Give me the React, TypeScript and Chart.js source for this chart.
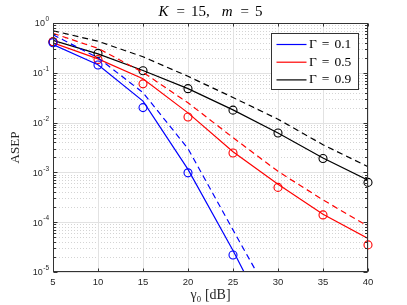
import React, { useEffect, useRef } from 'react';
import { Chart, registerables } from 'chart.js';

Chart.register(...registerables);

// ---------- data ----------
const snrDb = [5, 10, 15, 20, 25, 30, 35, 40];
const xTickValues = [5, 10, 15, 20, 25, 30, 35, 40];
const yDecades = [1e-5, 1e-4, 1e-3, 1e-2, 1e-1, 1];
const seriesLabels = ['Γ = 0.1', 'Γ = 0.5', 'Γ = 0.9'];
const seriesColors = ['#0000ff', '#ff0000', '#000000'];

// Γ = 0.1
const g01Solid = [0.37, 0.145, 0.027, 0.00115, 2.7e-5, 4.7e-7, null, null];
const g01Dashed = [0.58, 0.2, 0.04, 0.003, 7e-5, 1.7e-6, null, null];
const g01Sim = [0.4, 0.143, 0.02, 9.8e-4, 2.2e-5, null, null, null];
// Γ = 0.5
const g05Solid = [0.4, 0.19, 0.076, 0.0157, 0.0026, 5.8e-4, 1.45e-4, 4.7e-5];
const g05Dashed = [0.62, 0.31, 0.102, 0.025, 0.005, 1.05e-3, 2.8e-4, 8.3e-5];
const g05Sim = [0.42, 0.185, 0.06, 0.013, 0.00245, 5.0e-4, 1.4e-4, 3.5e-5];
// Γ = 0.9
const g09Solid = [0.45, 0.24, 0.111, 0.048, 0.018, 0.0062, 0.00195, 7.0e-4];
const g09Dashed = [0.7, 0.43, 0.21, 0.085, 0.032, 0.0117, 0.0036, 0.0013];
const g09Sim = [0.42, 0.245, 0.11, 0.048, 0.0178, 0.0062, 0.0019, 6.3e-4];

const solids = [g01Solid, g05Solid, g09Solid];
const dashes = [g01Dashed, g05Dashed, g09Dashed];
const sims = [g01Sim, g05Sim, g09Sim];

const AXIS_COLOR = '#333333';
const SERIF = '"Liberation Serif", "DejaVu Serif", serif';
const SANS = '"Liberation Sans", Arial, sans-serif';

const matlabPlugin = {
  id: 'matlabLook',
  beforeDatasetsDraw(chart: any) {
    const { ctx, chartArea: a, scales } = chart;
    const x = scales.x;
    const y = scales.y;
    ctx.save();
    ctx.lineWidth = 1;
    // minor y grid (dotted)
    ctx.strokeStyle = '#d4d4d4';
    ctx.setLineDash([1, 2]);
    for (const d of yDecades) {
      if (d >= 1) continue;
      for (let k = 2; k <= 9; k++) {
        const py = Math.round(y.getPixelForValue(d * k)) + 0.5;
        ctx.beginPath();
        ctx.moveTo(a.left, py);
        ctx.lineTo(a.right, py);
        ctx.stroke();
      }
    }
    // major grid (solid)
    ctx.setLineDash([]);
    ctx.strokeStyle = '#e2e2e2';
    for (const v of xTickValues) {
      const px = Math.round(x.getPixelForValue(v)) + 0.5;
      ctx.beginPath();
      ctx.moveTo(px, a.top);
      ctx.lineTo(px, a.bottom);
      ctx.stroke();
    }
    for (const d of yDecades) {
      const py = Math.round(y.getPixelForValue(d)) + 0.5;
      ctx.beginPath();
      ctx.moveTo(a.left, py);
      ctx.lineTo(a.right, py);
      ctx.stroke();
    }
    ctx.restore();
  },
  afterDatasetsDraw(chart: any) {
    const { ctx, chartArea: a, scales } = chart;
    const x = scales.x;
    const y = scales.y;
    ctx.save();
    ctx.lineWidth = 1;
    ctx.strokeStyle = AXIS_COLOR;
    ctx.setLineDash([]);
    const L = Math.round(a.left) + 0.5;
    const R = Math.round(a.right) - 0.5;
    const T = Math.round(a.top) + 0.5;
    const B = Math.round(a.bottom) - 0.5;
    ctx.strokeRect(L, T, R - L, B - T);
    // x ticks (inward, top and bottom)
    for (const v of xTickValues) {
      const px = Math.round(x.getPixelForValue(v)) + 0.5;
      ctx.beginPath();
      ctx.moveTo(px, B);
      ctx.lineTo(px, B - 3);
      ctx.moveTo(px, T);
      ctx.lineTo(px, T + 3);
      ctx.stroke();
    }
    // y ticks (major and minor, inward, left and right) + decade labels
    ctx.fillStyle = '#262626';
    ctx.textBaseline = 'middle';
    for (const d of yDecades) {
      const yp = y.getPixelForValue(d);
      const py = Math.round(yp) + 0.5;
      ctx.beginPath();
      ctx.moveTo(L, py);
      ctx.lineTo(L + 4, py);
      ctx.moveTo(R, py);
      ctx.lineTo(R - 4, py);
      ctx.stroke();
      // label 10^e
      const e = String(Math.round(Math.log10(d)));
      ctx.font = `6.5px ${SANS}`;
      const ew = ctx.measureText(e).width;
      ctx.font = `9px ${SANS}`;
      const bw = ctx.measureText('10').width;
      const right = a.left - 4;
      ctx.textAlign = 'left';
      ctx.fillText('10', right - ew - bw - 0.5, yp + 1);
      ctx.font = `6.5px ${SANS}`;
      ctx.fillText(e, right - ew, yp - 3.5);
      if (d >= 1) continue;
      for (let k = 2; k <= 9; k++) {
        const pm = Math.round(y.getPixelForValue(d * k)) + 0.5;
        ctx.beginPath();
        ctx.moveTo(L, pm);
        ctx.lineTo(L + 2.5, pm);
        ctx.moveTo(R, pm);
        ctx.lineTo(R - 2.5, pm);
        ctx.stroke();
      }
    }

    // legend
    const items = chart.data.datasets.filter((ds: any) => ds.inLegend);
    const bx = Math.round(a.right) - 97 + 0.5;
    const by = Math.round(a.top) + 10 + 0.5;
    const bw = 87;
    const rowH = 17.7;
    const bh = 56;
    ctx.fillStyle = '#ffffff';
    ctx.fillRect(bx, by, bw, bh);
    ctx.strokeStyle = AXIS_COLOR;
    ctx.strokeRect(bx, by, bw, bh);
    ctx.font = `13.5px ${SERIF}`;
    ctx.textBaseline = 'middle';
    items.forEach((ds: any, i: number) => {
      const cy = by + 11 + i * rowH;
      ctx.strokeStyle = ds.borderColor;
      ctx.lineWidth = 1.2;
      ctx.beginPath();
      ctx.moveTo(bx + 5, cy);
      ctx.lineTo(bx + 35, cy);
      ctx.stroke();
      ctx.fillStyle = '#000000';
      const parts = String(ds.label).split(' = ');
      let tx = bx + 37.5;
      ctx.textAlign = 'left';
      ctx.fillText(parts[0], tx, cy);
      tx += ctx.measureText(parts[0]).width + 5;
      ctx.fillText('=', tx, cy);
      tx += ctx.measureText('=').width + 5;
      ctx.fillText(parts[1], tx, cy);
    });
    ctx.restore();
  },
  afterDraw(chart: any) {
    const { ctx, chartArea: a } = chart;
    ctx.save();
    const segs = [
      { t: 'K', it: true, gap: 0 },
      { t: '=', it: false, gap: 8 },
      { t: '15,', it: false, gap: 6 },
      { t: 'm', it: true, gap: 12 },
      { t: '=', it: false, gap: 8 },
      { t: '5', it: false, gap: 6 },
    ];
    const fontFor = (it: boolean) => `${it ? 'italic ' : ''}15px ${SERIF}`;
    let total = 0;
    for (const s of segs) {
      ctx.font = fontFor(s.it);
      total += s.gap + ctx.measureText(s.t).width;
    }
    let tx = (a.left + a.right) / 2 - total / 2;
    ctx.fillStyle = '#000000';
    ctx.textBaseline = 'middle';
    ctx.textAlign = 'left';
    for (const s of segs) {
      ctx.font = fontFor(s.it);
      tx += s.gap;
      ctx.fillText(s.t, tx, 12);
      tx += ctx.measureText(s.t).width;
    }
    ctx.restore();
  },
};

export default function App() {
  const ref = useRef<HTMLCanvasElement>(null);
  useEffect(() => {
    const canvas = ref.current;
    if (!canvas) return;
    const datasets: any[] = [];
    seriesLabels.forEach((label, i) => {
      datasets.push({
        label,
        inLegend: true,
        data: solids[i],
        borderColor: seriesColors[i],
        backgroundColor: seriesColors[i],
        borderWidth: 1.2,
        pointRadius: 0,
        tension: 0,
        fill: false,
      });
      datasets.push({
        label: label + ' (dashed)',
        data: dashes[i],
        borderColor: seriesColors[i],
        backgroundColor: seriesColors[i],
        borderWidth: 1.2,
        borderDash: [6, 4],
        pointRadius: 0,
        tension: 0,
        fill: false,
      });
      datasets.push({
        label: label + ' (sim)',
        data: sims[i],
        showLine: false,
        borderColor: seriesColors[i],
        backgroundColor: 'rgba(0,0,0,0)',
        pointBorderColor: seriesColors[i],
        pointBackgroundColor: 'rgba(0,0,0,0)',
        pointRadius: 4,
        pointBorderWidth: 1.1,
        pointStyle: 'circle',
        clip: false,
      });
    });

    const chart = new Chart(canvas, {
      type: 'line',
      data: { labels: snrDb, datasets },
      plugins: [matlabPlugin],
      options: {
        animation: false,
        responsive: false,
        devicePixelRatio: 1,
        layout: { padding: { left: 0, top: 23, right: 39, bottom: 0 } },
        plugins: { legend: { display: false }, tooltip: { enabled: false }, title: { display: false } },
        scales: {
          x: {
            type: 'linear',
            min: 5,
            max: 40,
            afterBuildTicks: (s: any) => {
              s.ticks = xTickValues.map((v) => ({ value: v }));
            },
            afterFit: (s: any) => {
              s.height = 33;
            },
            grid: { display: false, drawTicks: false },
            border: { display: false },
            ticks: {
              padding: 5,
              maxRotation: 0,
              color: '#262626',
              font: { family: SANS, size: 9.5 },
              callback: (v: any) => String(v),
            },
            title: {
              display: true,
              text: 'γ₀ [dB]',
              color: '#262626',
              font: { family: SERIF, size: 14 },
              padding: { top: 2, bottom: 1.6 },
            },
          },
          y: {
            type: 'logarithmic',
            min: 1e-5,
            max: 1,
            afterBuildTicks: (s: any) => {
              s.ticks = yDecades.map((v) => ({ value: v }));
            },
            afterFit: (s: any) => {
              s.width = 53;
            },
            grid: { display: false, drawTicks: false },
            border: { display: false },
            ticks: { display: false },
            title: {
              display: true,
              text: 'ASEP',
              color: '#262626',
              font: { family: SERIF, size: 13 },
              padding: { top: 7.5, bottom: 0 },
            },
          },
        },
      } as any,
    });
    return () => chart.destroy();
  }, []);

  return (
    <div style={{ position: 'fixed', left: 0, top: 0, width: 407, height: 305, background: '#ffffff' }}>
      <canvas ref={ref} width={407} height={305} style={{ display: 'block', width: 407, height: 305 }} />
    </div>
  );
}
